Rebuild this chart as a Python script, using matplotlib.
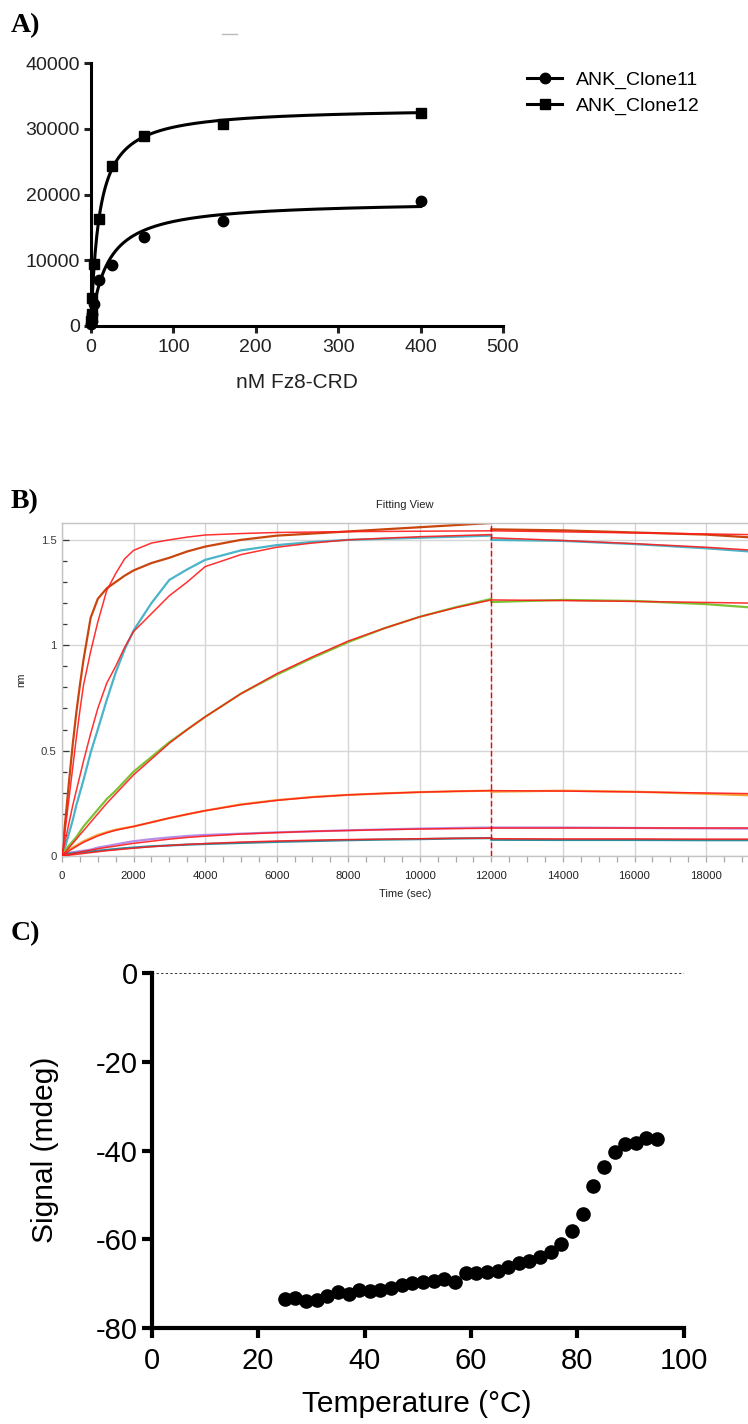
import numpy as np
import matplotlib
matplotlib.use("Agg")
import matplotlib.pyplot as plt
from matplotlib.lines import Line2D
from matplotlib.ticker import MultipleLocator

W, H = 748, 1424
plt.rcParams['font.family'] = ['Liberation Sans', 'DejaVu Sans']
plt.rcParams['axes.unicode_minus'] = False

# ---------------- A) saturation binding
conc_nM = [400, 160, 64, 25.6, 10.24, 4.1, 1.64, 0.655, 0.26]
clone11 = [19000, 16000, 13500, 9300, 7000, 3400, 1800, 700, 300]
clone12 = [32400, 30800, 28900, 24400, 16300, 9400, 4300, 1900, 700]
# one-site fit parameters (Bmax, Kd)
fit11 = (19100, 20.0)
fit12 = (33300, 10.0)

# ---------------- B) BLI sensorgrams (association 0-12000 s, dissociation after)
t_assoc = [0, 100, 200, 300, 400, 500, 600, 800, 1000, 1250, 1500, 1750, 2000,
           2500, 3000, 3500, 4000, 5000, 6000, 7000, 8000, 9000, 10000, 11000, 12000]
t_dissoc = [12000, 14000, 16000, 18000, 19200]

a1 = [0.01, 0.18, 0.36, 0.53, 0.68, 0.81, 0.93, 1.13, 1.22, 1.27, 1.30, 1.33, 1.355,
      1.39, 1.415, 1.445, 1.468, 1.50, 1.52, 1.53, 1.54, 1.55, 1.56, 1.57, 1.58]
a1_fit = [0.0, 0.14, 0.28, 0.42, 0.56, 0.69, 0.81, 0.97, 1.11, 1.26, 1.34, 1.41, 1.45,
          1.485, 1.50, 1.513, 1.523, 1.53, 1.535, 1.537, 1.539, 1.54, 1.541, 1.542, 1.543]
a2 = [0.01, 0.05, 0.11, 0.17, 0.24, 0.30, 0.36, 0.49, 0.60, 0.74, 0.87, 0.98, 1.07,
      1.20, 1.31, 1.36, 1.405, 1.45, 1.475, 1.49, 1.50, 1.505, 1.51, 1.515, 1.52]
a2_fit = [0.0, 0.08, 0.16, 0.24, 0.31, 0.38, 0.45, 0.58, 0.70, 0.82, 0.90, 0.99, 1.065,
          1.15, 1.235, 1.30, 1.373, 1.43, 1.465, 1.485, 1.50, 1.508, 1.515, 1.52, 1.525]
a3 = [0.01, 0.03, 0.05, 0.07, 0.09, 0.115, 0.14, 0.18, 0.22, 0.27, 0.31, 0.355, 0.40,
      0.47, 0.54, 0.60, 0.66, 0.77, 0.86, 0.94, 1.015, 1.08, 1.135, 1.18, 1.22]
a3_fit = [0.0, 0.02, 0.04, 0.06, 0.08, 0.10, 0.12, 0.16, 0.20, 0.25, 0.295, 0.34, 0.385,
          0.46, 0.535, 0.60, 0.66, 0.77, 0.865, 0.945, 1.02, 1.08, 1.135, 1.178, 1.215]
a4 = [0.01, 0.02, 0.03, 0.04, 0.05, 0.06, 0.07, 0.085, 0.10, 0.113, 0.125, 0.133, 0.14,
      0.16, 0.18, 0.198, 0.215, 0.245, 0.265, 0.28, 0.29, 0.297, 0.303, 0.307, 0.31]
a4_fit = [0.0, 0.012, 0.025, 0.035, 0.045, 0.055, 0.065, 0.08, 0.095, 0.11, 0.122, 0.131, 0.14,
          0.16, 0.18, 0.198, 0.215, 0.243, 0.264, 0.279, 0.29, 0.297, 0.303, 0.307, 0.31]
a5 = [0.01, 0.012, 0.015, 0.018, 0.02, 0.023, 0.025, 0.03, 0.04, 0.047, 0.055, 0.063, 0.07,
      0.08, 0.088, 0.095, 0.10, 0.106, 0.112, 0.117, 0.122, 0.126, 0.13, 0.133, 0.135]
a5_fit = [0.0, 0.004, 0.008, 0.011, 0.015, 0.018, 0.022, 0.028, 0.034, 0.041, 0.047, 0.054, 0.06,
          0.07, 0.08, 0.088, 0.094, 0.104, 0.111, 0.117, 0.121, 0.125, 0.128, 0.13, 0.132]
a6 = [0.01, 0.011, 0.012, 0.013, 0.015, 0.016, 0.018, 0.021, 0.025, 0.029, 0.033, 0.037, 0.04,
      0.046, 0.05, 0.054, 0.057, 0.062, 0.067, 0.071, 0.075, 0.078, 0.08, 0.083, 0.085]
a6_fit = [0.0, 0.002, 0.004, 0.006, 0.008, 0.01, 0.012, 0.016, 0.02, 0.025, 0.029, 0.033, 0.037,
          0.044, 0.05, 0.055, 0.059, 0.066, 0.071, 0.075, 0.078, 0.08, 0.082, 0.084, 0.085]

d1 = [1.55, 1.545, 1.535, 1.525, 1.512]
d1_fit = [1.543, 1.538, 1.533, 1.528, 1.525]
d2 = [1.50, 1.495, 1.48, 1.46, 1.445]
d2_fit = [1.51, 1.497, 1.482, 1.465, 1.452]
d3 = [1.205, 1.215, 1.21, 1.195, 1.18]
d3_fit = [1.215, 1.212, 1.208, 1.203, 1.20]
d4 = [0.305, 0.31, 0.305, 0.295, 0.288]
d4_fit = [0.31, 0.308, 0.304, 0.299, 0.296]
d5 = [0.135, 0.135, 0.133, 0.131, 0.13]
d5_fit = [0.132, 0.132, 0.132, 0.132, 0.132]
d6 = [0.077, 0.076, 0.076, 0.075, 0.075]
d6_fit = [0.082, 0.081, 0.081, 0.08, 0.08]

bli_colors = ['#c8460e', '#4ab4c8', '#7cc234', '#f2a43a', '#b68ce6', '#2e8c9c']

# ---------------- C) thermal melt (CD)
temp_C = [25, 27, 29, 31, 33, 35, 37, 39, 41, 43, 45, 47, 49, 51, 53, 55, 57, 59,
          61, 63, 65, 67, 69, 71, 73, 75, 77, 79, 81, 83, 85, 87, 89, 91, 93, 95]
signal_mdeg = [-73.4, -73.2, -73.8, -73.6, -72.8, -71.8, -72.3, -71.5, -71.6, -71.5,
               -70.9, -70.2, -69.9, -69.7, -69.3, -68.9, -69.7, -67.5, -67.6, -67.4,
               -67.2, -66.2, -65.3, -65.0, -63.9, -62.9, -61.1, -58.1, -54.4, -47.9,
               -43.8, -40.3, -38.6, -38.3, -37.1, -37.4]


fig = plt.figure(figsize=(W / 100, H / 100), dpi=100)


def px_axes(l, t, r, b):
    return fig.add_axes([l / W, 1 - b / H, (r - l) / W, (b - t) / H])


def fy(y):
    return 1 - y / H


# ---- panel A
axA = px_axes(91, 63.3, 503, 326)
xs = np.linspace(0, 400, 400)
for (bmax, kd) in (fit11, fit12):
    axA.plot(xs, bmax * xs / (kd + xs), color='black', lw=2.2, zorder=2)
axA.plot(conc_nM, clone11, 'o', color='black', ms=7.5, clip_on=False, zorder=3)
axA.plot(conc_nM, clone12, 's', color='black', ms=7, clip_on=False, zorder=3)
axA.set_xlim(0, 500)
axA.set_ylim(0, 40000)
axA.set_xticks(range(0, 501, 100))
axA.set_yticks(range(0, 40001, 10000))
for s in ('top', 'right'):
    axA.spines[s].set_visible(False)
for s in ('left', 'bottom'):
    axA.spines[s].set_linewidth(2.2)
axA.tick_params(labelsize=14, length=5, width=2.2, pad=3, colors='#222222')
axA.tick_params(axis='x', pad=4)
handles = [Line2D([], [], color='black', lw=2.2, marker='o', ms=7.5),
           Line2D([], [], color='black', lw=2.2, marker='s', ms=7)]
fig.legend(handles, ['ANK_Clone11', 'ANK_Clone12'], loc='upper left',
           bbox_to_anchor=(527 / W, fy(71)), frameon=False, fontsize=14,
           handlelength=1.8, handletextpad=0.7, labelspacing=0.45,
           borderpad=0, borderaxespad=0)
fig.text(297 / W, fy(382), 'nM Fz8-CRD', fontsize=15, ha='center', va='center', color='#222222')
fig.add_artist(Line2D([222 / W, 237 / W], [fy(34), fy(34)], color='#bbbbbb', lw=1))

# ---- panel B
axB = px_axes(62, 523, 749, 856)
data_a = [a1, a2, a3, a4, a5, a6]
fits_a = [a1_fit, a2_fit, a3_fit, a4_fit, a5_fit, a6_fit]
data_d = [d1, d2, d3, d4, d5, d6]
fits_d = [d1_fit, d2_fit, d3_fit, d4_fit, d5_fit, d6_fit]
for col, ya, yd in zip(bli_colors, data_a, data_d):
    axB.plot(t_assoc, ya, color=col, lw=1.6, zorder=2)
    axB.plot(t_dissoc, yd, color=col, lw=1.6, zorder=2)
for ya, yd in zip(fits_a, fits_d):
    axB.plot(t_assoc, ya, color='#ff1a1a', lw=1.1, alpha=0.9, zorder=3)
    axB.plot(t_dissoc, yd, color='#ff1a1a', lw=1.1, alpha=0.9, zorder=3)
axB.axvline(12000, color='#ff0000', lw=1.0, ls=(0, (4, 2)), zorder=4)
axB.set_xlim(0, 19200)
axB.set_ylim(0, 1.58)
axB.xaxis.set_major_locator(MultipleLocator(2000))
axB.xaxis.set_minor_locator(MultipleLocator(500))
axB.yaxis.set_major_locator(MultipleLocator(0.5))
axB.yaxis.set_minor_locator(MultipleLocator(0.1))
axB.yaxis.set_major_formatter(plt.FuncFormatter(lambda v, p: f"{v:g}"))
axB.grid(True, which='major', color='#d6d6d6', lw=1.0)
axB.set_axisbelow(True)
for s in axB.spines.values():
    s.set_color('#c4c4c4')
    s.set_linewidth(1.0)
axB.tick_params(axis='y', which='both', direction='in', colors='#3a3a3a', labelsize=8.2, pad=4)
axB.tick_params(axis='y', which='major', length=5, width=0.9)
axB.tick_params(axis='y', which='minor', length=3.5, width=0.9)
axB.tick_params(axis='x', which='both', direction='out', color='#a8a8a8', labelcolor='#222222',
                labelsize=8.2, width=0.9)
axB.tick_params(axis='x', which='major', length=4.5, pad=6)
axB.tick_params(axis='x', which='minor', length=4.5)
fig.text(405 / W, fy(505), 'Fitting View', fontsize=8, ha='center', va='center', color='#222222')
fig.text(21.5 / W, fy(680), 'nm', fontsize=7.5, rotation=90, ha='center', va='center', color='#222222')
fig.text(405 / W, fy(894), 'Time (sec)', fontsize=8, ha='center', va='center', color='#222222')

# ---- panel C
axC = px_axes(151.7, 973.3, 683.7, 1328)
axC.axhline(0, color='black', lw=1.1, ls=(0, (1.5, 1.5)), zorder=1)
axC.plot(temp_C, signal_mdeg, 'o', color='black', ms=9.5, clip_on=False, zorder=3)
axC.set_xlim(0, 100)
axC.set_ylim(-80, 0)
axC.set_xticks(range(0, 101, 20))
axC.set_yticks(range(-80, 1, 20))
for s in ('top', 'right'):
    axC.spines[s].set_visible(False)
for s in ('left', 'bottom'):
    axC.spines[s].set_linewidth(3.0)
axC.tick_params(labelsize=21, length=7, width=3.0, pad=3, colors='black')
axC.tick_params(axis='x', pad=7)
fig.text(417 / W, fy(1404), 'Temperature (°C)', fontsize=21.5, ha='center', va='center')
fig.text(45 / W, fy(1150), 'Signal (mdeg)', fontsize=21.5, rotation=90, ha='center', va='center')

# ---- panel letters
for lab, yb in (('A)', 32), ('B)', 508), ('C)', 940)):
    fig.text(11 / W, fy(yb), lab, fontsize=20, fontweight='bold', va='baseline', ha='left',
             family=['Liberation Serif', 'DejaVu Serif'])

fig.savefig('out.png', dpi=100)
